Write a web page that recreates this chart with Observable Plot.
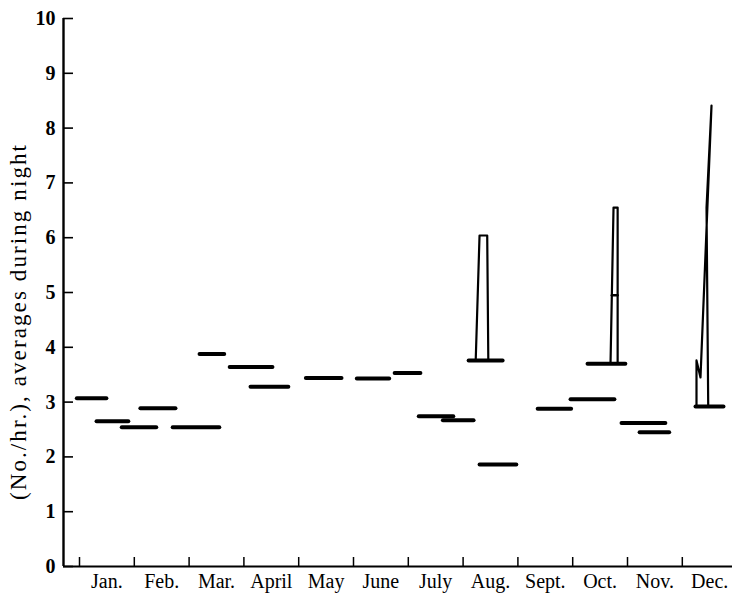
<!DOCTYPE html>
<html><head><meta charset="utf-8">
<script src="https://cdn.jsdelivr.net/npm/d3@7"></script>
<script src="https://cdn.jsdelivr.net/npm/@observablehq/plot@0.6"></script>
<style>body{margin:0;background:#fff} .ylab text{letter-spacing:2.1px}</style>
</head><body><div id="chart"></div>
<script>
const months = ["Jan.","Feb.","Mar.","April","May","June","July","Aug.","Sept.","Oct.","Nov.","Dec."];
const yTicks = [0,1,2,3,4,5,6,7,8,9,10];
const yLabel = "(No./hr.), averages during night";
// horizontal averages: start / end in month units (0 = beginning of Jan.), value
const segStart = [-0.04,0.32,0.78,1.12,1.71,2.20,2.75,3.13,4.14,5.07,5.76,6.20,6.64,7.11,7.31,8.37,8.97,9.28,9.90,10.23,11.25];
const segEnd   = [0.50,0.90,1.41,1.76,2.56,2.65,3.53,3.82,4.79,5.66,6.23,6.83,7.20,7.73,7.98,8.98,9.77,9.97,10.70,10.77,11.76];
const segValue = [3.07,2.65,2.54,2.89,2.54,3.88,3.64,3.28,3.44,3.43,3.53,2.74,2.67,3.76,1.86,2.88,3.05,3.70,2.62,2.45,2.92];
// peaks
const augPeakX = [7.23,7.30,7.44,7.46];
const augPeakY = [3.76,6.04,6.04,3.76];
const octPeakX = [9.69,9.745,9.82,9.82];
const octPeakY = [3.70,6.55,6.55,3.70];
const octNotchX = [9.714,9.82];
const octNotchY = [4.95,4.95];
const decPeakX = [11.259,11.259,11.332,11.533,11.442,11.473];
const decPeakY = [2.92,3.76,3.45,8.41,6.55,2.92];

const segs = segStart.map((a,i)=>({a, b: segEnd[i], v: segValue[i]}));
const pts = (X,Y)=>X.map((x,i)=>({x, y: Y[i]}));
const xMin = -0.292, xMax = 11.916;

const chart = Plot.plot({
  width: 732, height: 599,
  marginLeft: 63, marginRight: 0, marginTop: 18, marginBottom: 33,
  style: {fontFamily: "'Liberation Serif','Times New Roman',serif", fontSize: "20px", background: "#fff", color: "#000"},
  x: {domain: [xMin, xMax]},
  y: {domain: [0, 10]},
  marks: [
    Plot.axisY(yTicks, {tickSize: -10, tickPadding: 18, strokeWidth: 1.6, fontWeight: "bold", fontSize: 20, tickFormat: d3.format("d"), label: null}),
    Plot.axisX(d3.range(13), {tickSize: -9, tickFormat: () => "", strokeWidth: 1.5, label: null}),
    Plot.axisX(months.map((_, i) => i + 0.5), {tickSize: 0, tickPadding: 7, fontSize: 20, tickFormat: d => months[Math.round(d - 0.5)], label: null}),
    Plot.text([yLabel], {frameAnchor: "left", textAnchor: "middle", rotate: -90, dx: -45, dy: 29, fontSize: 23, fill: "#000", className: "ylab"}),
    Plot.ruleX([xMin], {strokeWidth: 2.4}),
    Plot.ruleY([0], {strokeWidth: 2}),
    Plot.ruleY(segs, {x1: "a", x2: "b", y: "v", strokeWidth: 4, strokeLinecap: "round"}),
    Plot.line(pts(augPeakX, augPeakY), {x: "x", y: "y", strokeWidth: 2.2}),
    Plot.line(pts(octPeakX, octPeakY), {x: "x", y: "y", strokeWidth: 2.2}),
    Plot.line(pts(octNotchX, octNotchY), {x: "x", y: "y", strokeWidth: 2.5}),
    Plot.line(pts(decPeakX, decPeakY), {x: "x", y: "y", strokeWidth: 2.2})
  ]
});
document.getElementById("chart").appendChild(chart);
</script>
</body></html>
